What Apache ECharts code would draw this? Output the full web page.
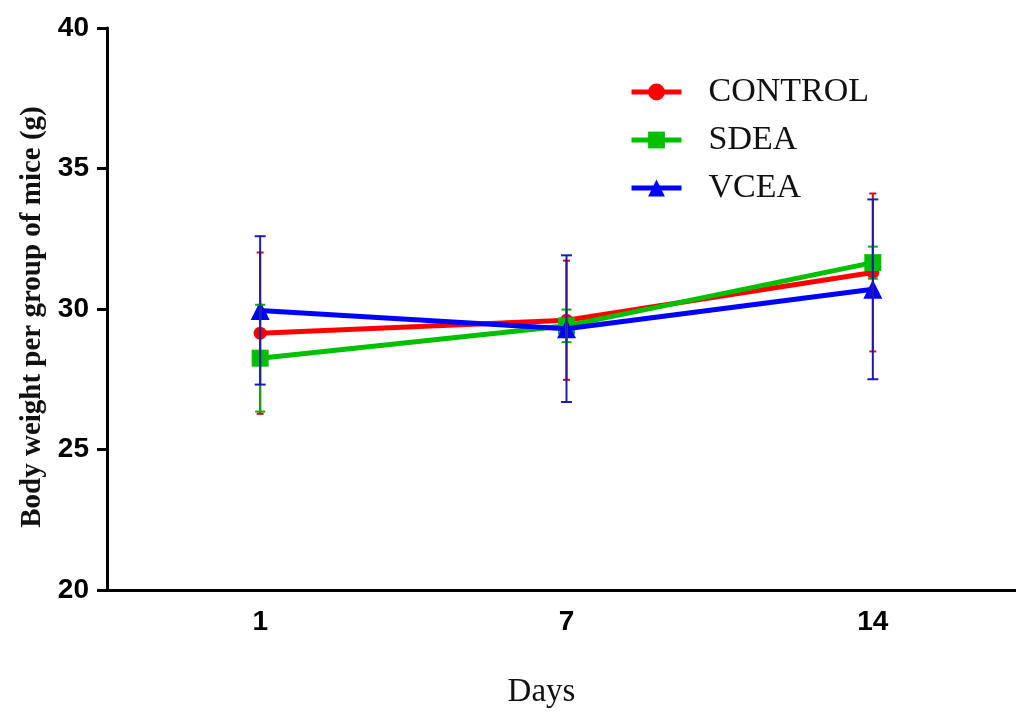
<!DOCTYPE html>
<html>
<head>
<meta charset="utf-8">
<script src="https://cdn.jsdelivr.net/npm/echarts@6/dist/echarts.min.js"></script>
<style>html,body{margin:0;padding:0;background:#fff;}#c{width:1016px;height:711px;}</style>
</head>
<body>
<div id="c"></div>
<script>
const days = ['1', '7', '14'];
const seriesNames = ['CONTROL', 'SDEA', 'VCEA'];
const controlMean = [29.14, 29.6, 31.3];
const controlSD = [2.87, 2.12, 2.81];
const sdeaMean = [28.25, 29.4, 31.65];
const sdeaSD = [1.9, 0.58, 0.57];
const vceaMean = [29.95, 29.3, 30.7];
const vceaSD = [2.64, 2.61, 3.2];
const yTicks = [20, 25, 30, 35, 40];

const lineColors = ['#ff0000', '#00c000', '#0000ff'];
const errColors = ['#cc1010', '#00b000', '#1a1ab8'];
const symbols = ['circle', 'rect', 'triangle'];
const symbolSizes = [13, 17, 19];
const capWidths = [7, 10, 11];
const means = [controlMean, sdeaMean, vceaMean];
const sds = [controlSD, sdeaSD, vceaSD];

const chart = echarts.init(document.getElementById('c'));
const series = [];
means.forEach((m, k) => {
  series.push({
    name: seriesNames[k],
    type: 'line',
    data: m,
    symbol: symbols[k],
    symbolSize: symbolSizes[k],
    itemStyle: { color: lineColors[k] },
    lineStyle: { color: lineColors[k], width: 5 },
    z: 3 + k,
    animation: false
  });
});
means.forEach((m, k) => {
  const cw = capWidths[k];
  series.push({
    name: seriesNames[k] + ' SD',
    type: 'custom',
    data: m.map((v, i) => [i, v, sds[k][i]]),
    z: 10 + k,
    animation: false,
    renderItem: function (params, api) {
      const i = api.value(0), v = api.value(1), e = api.value(2);
      const top = api.coord([i, v + e]);
      const bot = api.coord([i, v - e]);
      const st = { stroke: errColors[k], lineWidth: 2 };
      return {
        type: 'group',
        children: [
          { type: 'line', shape: { x1: top[0], y1: top[1], x2: bot[0], y2: bot[1] }, style: st },
          { type: 'line', shape: { x1: top[0] - cw / 2, y1: top[1], x2: top[0] + cw / 2, y2: top[1] }, style: st },
          { type: 'line', shape: { x1: bot[0] - cw / 2, y1: bot[1], x2: bot[0] + cw / 2, y2: bot[1] }, style: st }
        ]
      };
    }
  });
});

chart.setOption({
  animation: false,
  backgroundColor: '#ffffff',
  grid: { left: 107, width: 919, top: 28, bottom: 121, containLabel: false, outerBoundsMode: 'none' },
  legend: {
    data: seriesNames,
    orient: 'vertical',
    left: 629,
    top: 75,
    padding: 0,
    itemWidth: 50,
    itemHeight: 21,
    itemGap: 14,
    lineStyle: { width: 5 },
    textStyle: {
      fontFamily: 'Liberation Serif',
      fontSize: 34,
      lineHeight: 34,
      color: '#111',
      padding: [0, 0, 0, 22]
    }
  },
  xAxis: {
    type: 'category',
    data: days,
    boundaryGap: true,
    name: 'Days',
    nameLocation: 'middle',
    nameGap: 86,
    nameTextStyle: { fontFamily: 'Liberation Serif', fontSize: 33, color: '#111', padding: [0, 50, 0, 0] },
    axisLine: { lineStyle: { color: '#000', width: 3 } },
    axisTick: { alignWithLabel: true, length: 10, lineStyle: { color: '#000', width: 3 } },
    axisLabel: { margin: 18, fontFamily: 'Liberation Sans', fontWeight: 'bold', fontSize: 28, color: '#000' },
    splitLine: { show: false }
  },
  yAxis: {
    type: 'value',
    min: 20,
    max: 40,
    interval: 5,
    name: 'Body weight per group of mice (g)',
    nameLocation: 'middle',
    nameGap: 57,
    nameTextStyle: { fontFamily: 'Liberation Serif', fontWeight: 'bold', fontSize: 29, color: '#111', padding: [0, 16, 0, 0] },
    axisLine: { show: true, lineStyle: { color: '#000', width: 3 } },
    axisTick: { show: true, length: 10, lineStyle: { color: '#000', width: 3 } },
    axisLabel: {
      margin: 18, fontFamily: 'Liberation Sans', fontWeight: 'bold', fontSize: 28, color: '#000',
      formatter: function (v) { return yTicks.indexOf(v) >= 0 ? String(v) : ''; }
    },
    splitLine: { show: false }
  },
  series: series
});
</script>
</body>
</html>
